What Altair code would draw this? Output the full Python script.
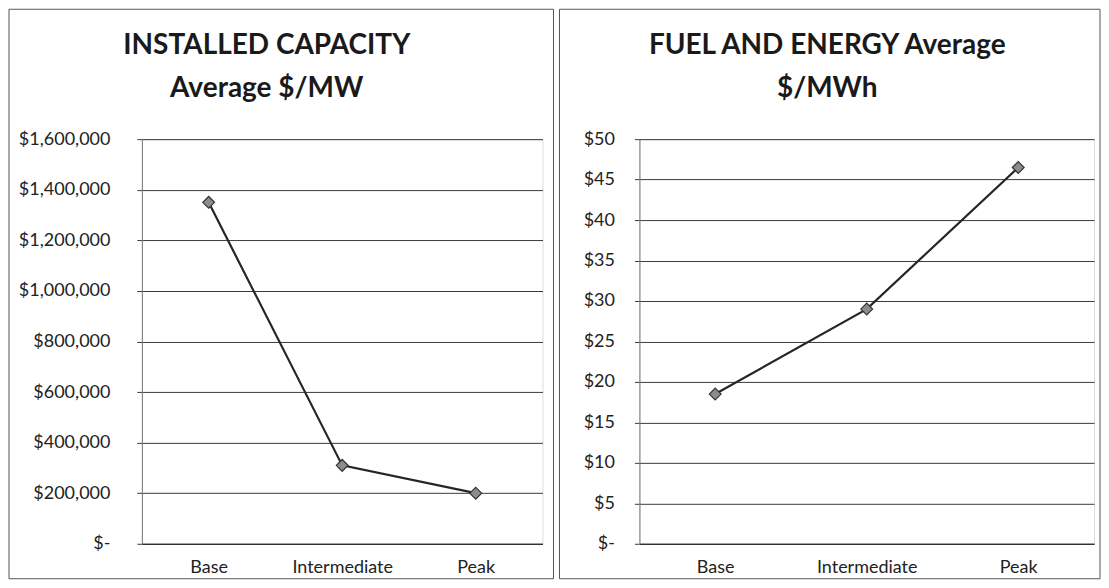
import altair as alt
import pandas as pd

categories = ["Base", "Intermediate", "Peak"]
capacity_values = [1350000, 310000, 200000]
fuel_values = [18.5, 29.0, 46.5]
capacity_ticks = [0, 200000, 400000, 600000, 800000, 1000000, 1200000, 1400000, 1600000]
fuel_ticks = [0, 5, 10, 15, 20, 25, 30, 35, 40, 45, 50]
title_left = ["INSTALLED CAPACITY", "Average $/MW"]
title_right = ["FUEL AND ENERGY Average", "$/MWh"]

FONT = "Lato"
GRID = "#3a3a3a"


def panel(values, ticks, ymax, width, extent, lpad, title_lines, title_x, border):
    df = pd.DataFrame({"category": categories, "value": values})
    x = alt.X("category:N", sort=categories, title=None,
              scale=alt.Scale(paddingInner=0, paddingOuter=0),
              axis=alt.Axis(labelAngle=0, ticks=False, labelPadding=15,
                            labelFontSize=18, labelFont=FONT, labelColor="#222",
                            domainColor="#222", domainWidth=1.2))
    y = alt.Y("value:Q", title=None,
              scale=alt.Scale(domain=[0, ymax], nice=False, zero=True),
              axis=alt.Axis(values=ticks, grid=True, gridColor=GRID, gridWidth=1,
                            tickSize=5, tickColor=GRID, labelPadding=lpad,
                            labelFontSize=18, labelFont=FONT, labelColor="#222",
                            domainColor="#777", minExtent=extent, maxExtent=extent,
                            labelExpr="datum.value == 0 ? '$-' : format(datum.value, '$,.0f')"))
    base = alt.Chart(df)
    line = base.mark_line(color="#262626", strokeWidth=2.2).encode(x=x, y=y)
    pts = base.mark_point(shape="diamond", filled=True, size=140, color="#8c8c8c",
                          stroke="#333333", strokeWidth=1.2, opacity=1).encode(x=x, y=y)
    one = alt.Data(values=[{}])
    rect = alt.Chart(one).mark_rect(fill="white", fillOpacity=0, stroke="#555555",
                                    strokeWidth=1).encode(
        x=alt.value(border[0]), x2=alt.value(border[1]),
        y=alt.value(border[2]), y2=alt.value(border[3]))
    title = alt.Chart(one).mark_text(font=FONT, fontWeight="bold", fontSize=28,
                                     color="#1a1a1a", align="center",
                                     baseline="alphabetic", lineHeight=43).encode(
        x=alt.value(title_x), y=alt.value(-85), text=alt.value(title_lines))
    return alt.layer(rect, line, pts, title).properties(width=width, height=405)


left = panel(capacity_values, capacity_ticks, 1600000, 401, 133, 27, title_left, 125,
             [-133, 412, -130, 440])
right = panel(fuel_values, fuel_ticks, 50, 455, 80, 20, title_right, 188,
              [-80, 461, -130, 440])

chart = alt.hconcat(left, right, spacing=4).properties(padding=0).configure_view(
    stroke=None).configure(background="white")

chart.save("out.html", embed_options={"renderer": "svg", "actions": False})
